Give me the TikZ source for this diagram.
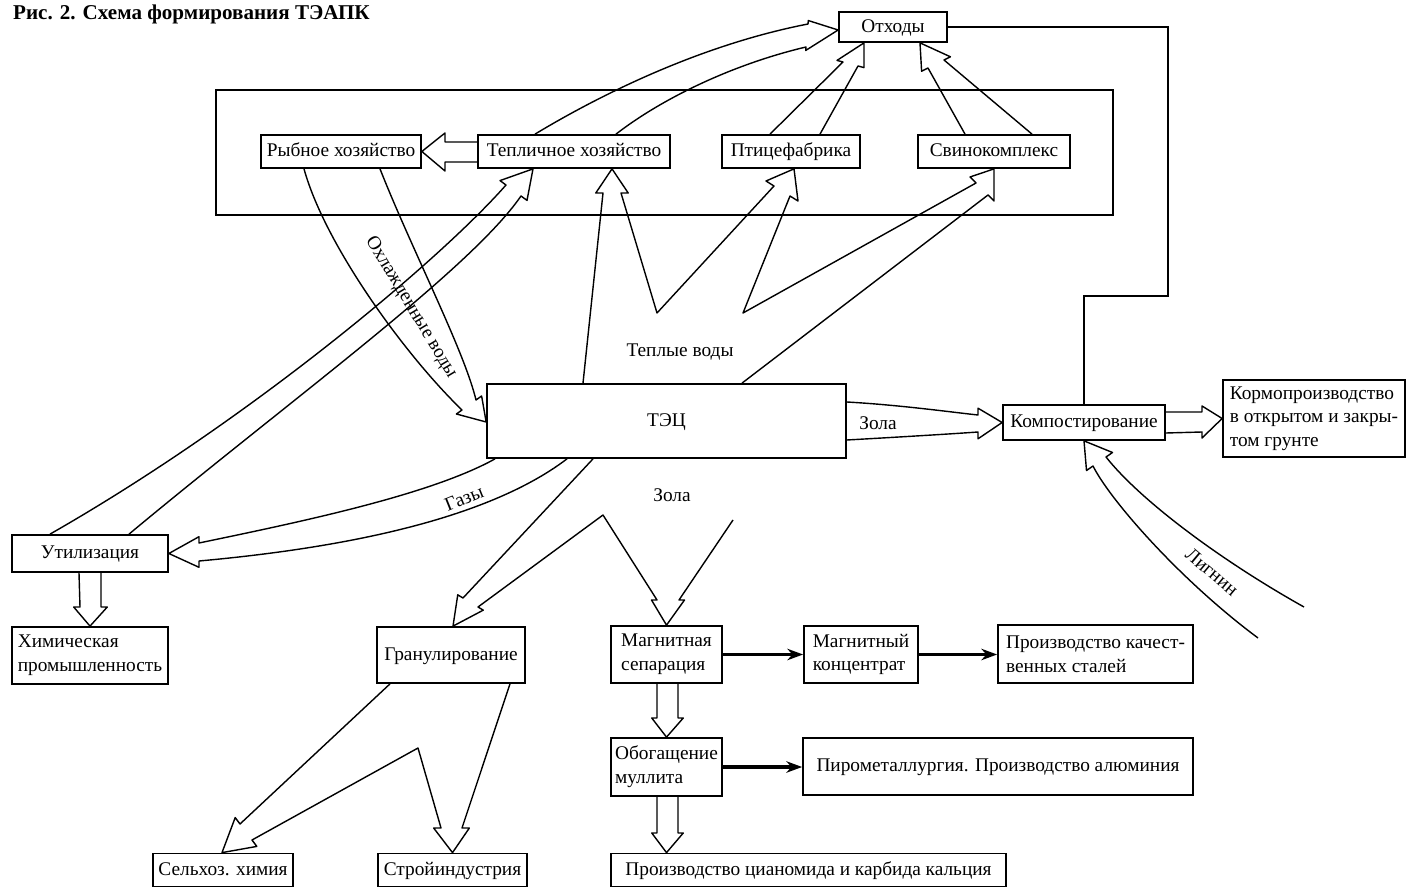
\documentclass[tikz,border=0pt]{standalone}
\usepackage{fontspec}
\setmainfont{Liberation Serif}
\usetikzlibrary{calc,arrows.meta}
\newcommand{\hd}[4]{-- ($#2!-#1!#3$) -- #4 -- ($#3!-#1!#2$) -- #3}

\begin{document}
\begin{tikzpicture}[x=0.02cm, y=-0.02cm,
  base/.style={draw, line width=1pt, inner sep=1pt, font=\fontsize{11}{13.5}\selectfont},
  box/.style={base, align=center, text height=1.75ex, text depth=.5ex},
  lbox/.style={base, align=left},
  band/.style={line width=0.8pt, line join=round},
  heavy/.style={line width=1.8pt, -{Stealth[length=9pt,width=6.5pt]}},
  flowlabel/.style={font=\fontsize{11}{13}\selectfont}]
  \useasboundingbox (0,0) rectangle (1406,888);

  \node[anchor=base west, font=\bfseries\fontsize{12}{14}\selectfont] (title) at (7,20) {Рис. 2. Схема формирования ТЭАПК};

  \node[box, minimum width=2.16cm, minimum height=0.6cm] (otx) at (893,27) {Отходы};
  \draw[line width=1pt] (216,90) rectangle (1113,215);
  \node[box, minimum width=3.2cm, minimum height=0.66cm] (rib) at (341,151.5) {Рыбное хозяйство};
  \node[box, minimum width=3.84cm, minimum height=0.66cm] (tep) at (574,151.5) {Тепличное хозяйство};
  \node[box, minimum width=2.76cm, minimum height=0.66cm] (pti) at (791,151.5) {Птицефабрика};
  \node[box, minimum width=3.04cm, minimum height=0.66cm] (svi) at (994,151.5) {Свинокомплекс};
  \node[box, minimum width=7.18cm, minimum height=1.48cm] (tec) at (666.5,421) {ТЭЦ};
  \node[box, minimum width=3.24cm, minimum height=0.7cm] (kom) at (1084,422.5) {Компостирование};
  \node[lbox, minimum width=3.64cm, minimum height=1.54cm] (korm) at (1314,418.5) {Кормопроизводство\\в открытом и закры-\\том грунте};
  \node[box, minimum width=3.12cm, minimum height=0.74cm] (uti) at (90,553.5) {Утилизация};
  \node[lbox, minimum width=3.12cm, minimum height=1.14cm] (him) at (90,655.5) {Химическая\\промышленность};
  \node[box, minimum width=2.96cm, minimum height=1.12cm] (gra) at (451,655) {Гранулирование};
  \node[lbox, minimum width=2.22cm, minimum height=1.14cm] (mag) at (666.5,654.5) {Магнитная\\сепарация};
  \node[lbox, minimum width=2.28cm, minimum height=1.14cm] (mk) at (861,654.5) {Магнитный\\концентрат};
  \node[lbox, minimum width=3.9cm, minimum height=1.16cm] (pks) at (1095.5,654) {Производство качест-\\венных сталей};
  \node[lbox, minimum width=2.22cm, minimum height=1.16cm] (obo) at (666.5,767) {Обогащение\\муллита};
  \node[box, minimum width=7.8cm, minimum height=1.14cm] (pir) at (998,766.5) {Пирометаллургия. Производство алюминия};
  \node[box, minimum width=2.8cm, minimum height=0.66cm] (sel) at (223,870) {Сельхоз. химия};
  \node[box, minimum width=2.98cm, minimum height=0.66cm] (str) at (452.5,870) {Стройиндустрия};
  \node[box, minimum width=7.9cm, minimum height=0.66cm] (cia) at (808.5,870) {Производство цианомида и карбида кальция};

  \coordinate (ashend) at (733,520);
  \coordinate (lig1) at (1258,638);
  \coordinate (lig2) at (1304,607);

  \draw[line width=1.6pt] (otx.east) -| (1168,296) -| (kom.north);
  \draw[band] ($(tep.west)+(0,-9.5)$) -- (445,142) \hd{.45}{(445,142)}{(445,162)}{(rib.east)} -- ($(tep.west)+(0,10.5)$);
  \draw[band] ($(tep.north)+(-39,0)$) .. controls (600,95) and (700,45) .. (808,24) \hd{.15}{(808,24)}{(806,47)}{($(otx.west)+(0,3)$)} .. controls (730,65) and (660,100) .. ($(tep.north)+(42,0)$);
  \draw[band] ($(pti.north)+(-21,0)$) -- (843,62) \hd{.4}{(843,62)}{(858,66)}{($(otx.south)+(-29,0)$)} -- ($(pti.north)+(29,0)$);
  \draw[band] ($(svi.north)+(-29,0)$) -- (928,68) \hd{.4}{(928,68)}{(944,60)}{($(otx.south)+(27,0)$)} -- ($(svi.north)+(38,0)$);

  \draw[band] ($(rib.south)+(-37,0)$) .. controls (325,245) and (405,355) .. (462,410) \hd{.4}{(462,410)}{(476,400)}{($(tec.west)+(0,1)$)} .. controls (464,350) and (412,250) .. ($(rib.south)+(39,0)$);
  \node[flowlabel, rotate=-59] (cw) at (411,307) {Охлажденные воды};
  \draw[band] ($(uti.north)+(-40,0)$) .. controls (250,420) and (440,260) .. (506,185) \hd{.4}{(506,185)}{(521,196)}{($(tep.south)+(-41,0)$)} .. controls (470,270) and (290,400) .. ($(uti.north)+(39,0)$);

  \draw[band] ($(tec.north)+(-83.5,0)$) -- (603,193) \hd{.4}{(603,193)}{(621,193)}{($(tep.south)+(38,0)$)} -- (657,313) -- (774,186) \hd{.5}{(774,186)}{(790,196)}{($(pti.south)+(3,0)$)} -- (743,313) -- (976,183) \hd{.5}{(976,183)}{(988,195)}{(svi.south)} -- ($(tec.north)+(75.5,0)$);
  \node[flowlabel] (ww) at (680,352) {Теплые воды};

  \draw[band] ($(tec.south)+(-171.5,0)$) .. controls (430,495) and (300,522) .. (199,543) \hd{.35}{(199,543)}{(199,561)}{(uti.east)} .. controls (320,550) and (480,525) .. ($(tec.south)+(-99.5,0)$);
  \node[flowlabel, rotate=22] (gz) at (464,498) {Газы};

  \draw[band] ($(tec.south)+(-73.5,0)$) -- (463,598) \hd{.35}{(463,598)}{(478,607)}{($(gra.north)+(2,0)$)} -- (603,515) -- (657,600) \hd{.25}{(657,600)}{(679,600)}{(mag.north)} -- (ashend);
  \node[flowlabel] (ash1) at (672,495) {Зола};

  \draw[band] ($(tec.east)+(0,-19)$) .. controls (900,405) and (950,412) .. (978,415) \hd{.4}{(978,415)}{(978,432)}{(kom.west)} .. controls (950,434) and (900,437) .. ($(tec.east)+(0,19)$);
  \node[flowlabel] (ash2) at (878,423) {Зола};
  \draw[band] ($(kom.east)+(0,-10.5)$) -- (1202,412) \hd{.3}{(1202,412)}{(1202,432)}{(korm.west)} -- ($(kom.east)+(0,10.5)$);
  \draw[band] (lig1) .. controls (1180,580) and (1110,500) .. (1093,466) \hd{.5}{(1093,466)}{(1106,457)}{(kom.south)} .. controls (1140,500) and (1220,560) .. (lig2);
  \node[flowlabel, rotate=-40] (lg) at (1212,572) {Лигнин};

  \draw[band] ($(uti.south)+(-11,0)$) -- (80,607) \hd{.3}{(80,607)}{(101,607)}{(him.north)} -- ($(uti.south)+(11,0)$);
  \draw[band] ($(gra.south)+(-61,0)$) -- (240,824) \hd{.4}{(240,824)}{(252,840)}{($(sel.north)+(-1,0)$)} -- (418,748) -- (441,828) \hd{.35}{(441,828)}{(462,828)}{(str.north)} -- ($(gra.south)+(59,0)$);
  \draw[band] ($(mag.south)+(-9.5,0)$) -- (657,718) \hd{.25}{(657,718)}{(678,718)}{(obo.north)} -- ($(mag.south)+(11.5,0)$);
  \draw[band] ($(obo.south)+(-9.5,0)$) -- (657,833) \hd{.25}{(657,833)}{(678,833)}{(cia.north -| obo)} -- ($(obo.south)+(11.5,0)$);

  \draw[heavy] (mag.east) -- (mk.west);
  \draw[heavy] (mk.east) -- (mk.east -| pks.west);
  \draw[heavy] (obo.east) -- (obo.east -| pir.west);
\end{tikzpicture}
\end{document}
